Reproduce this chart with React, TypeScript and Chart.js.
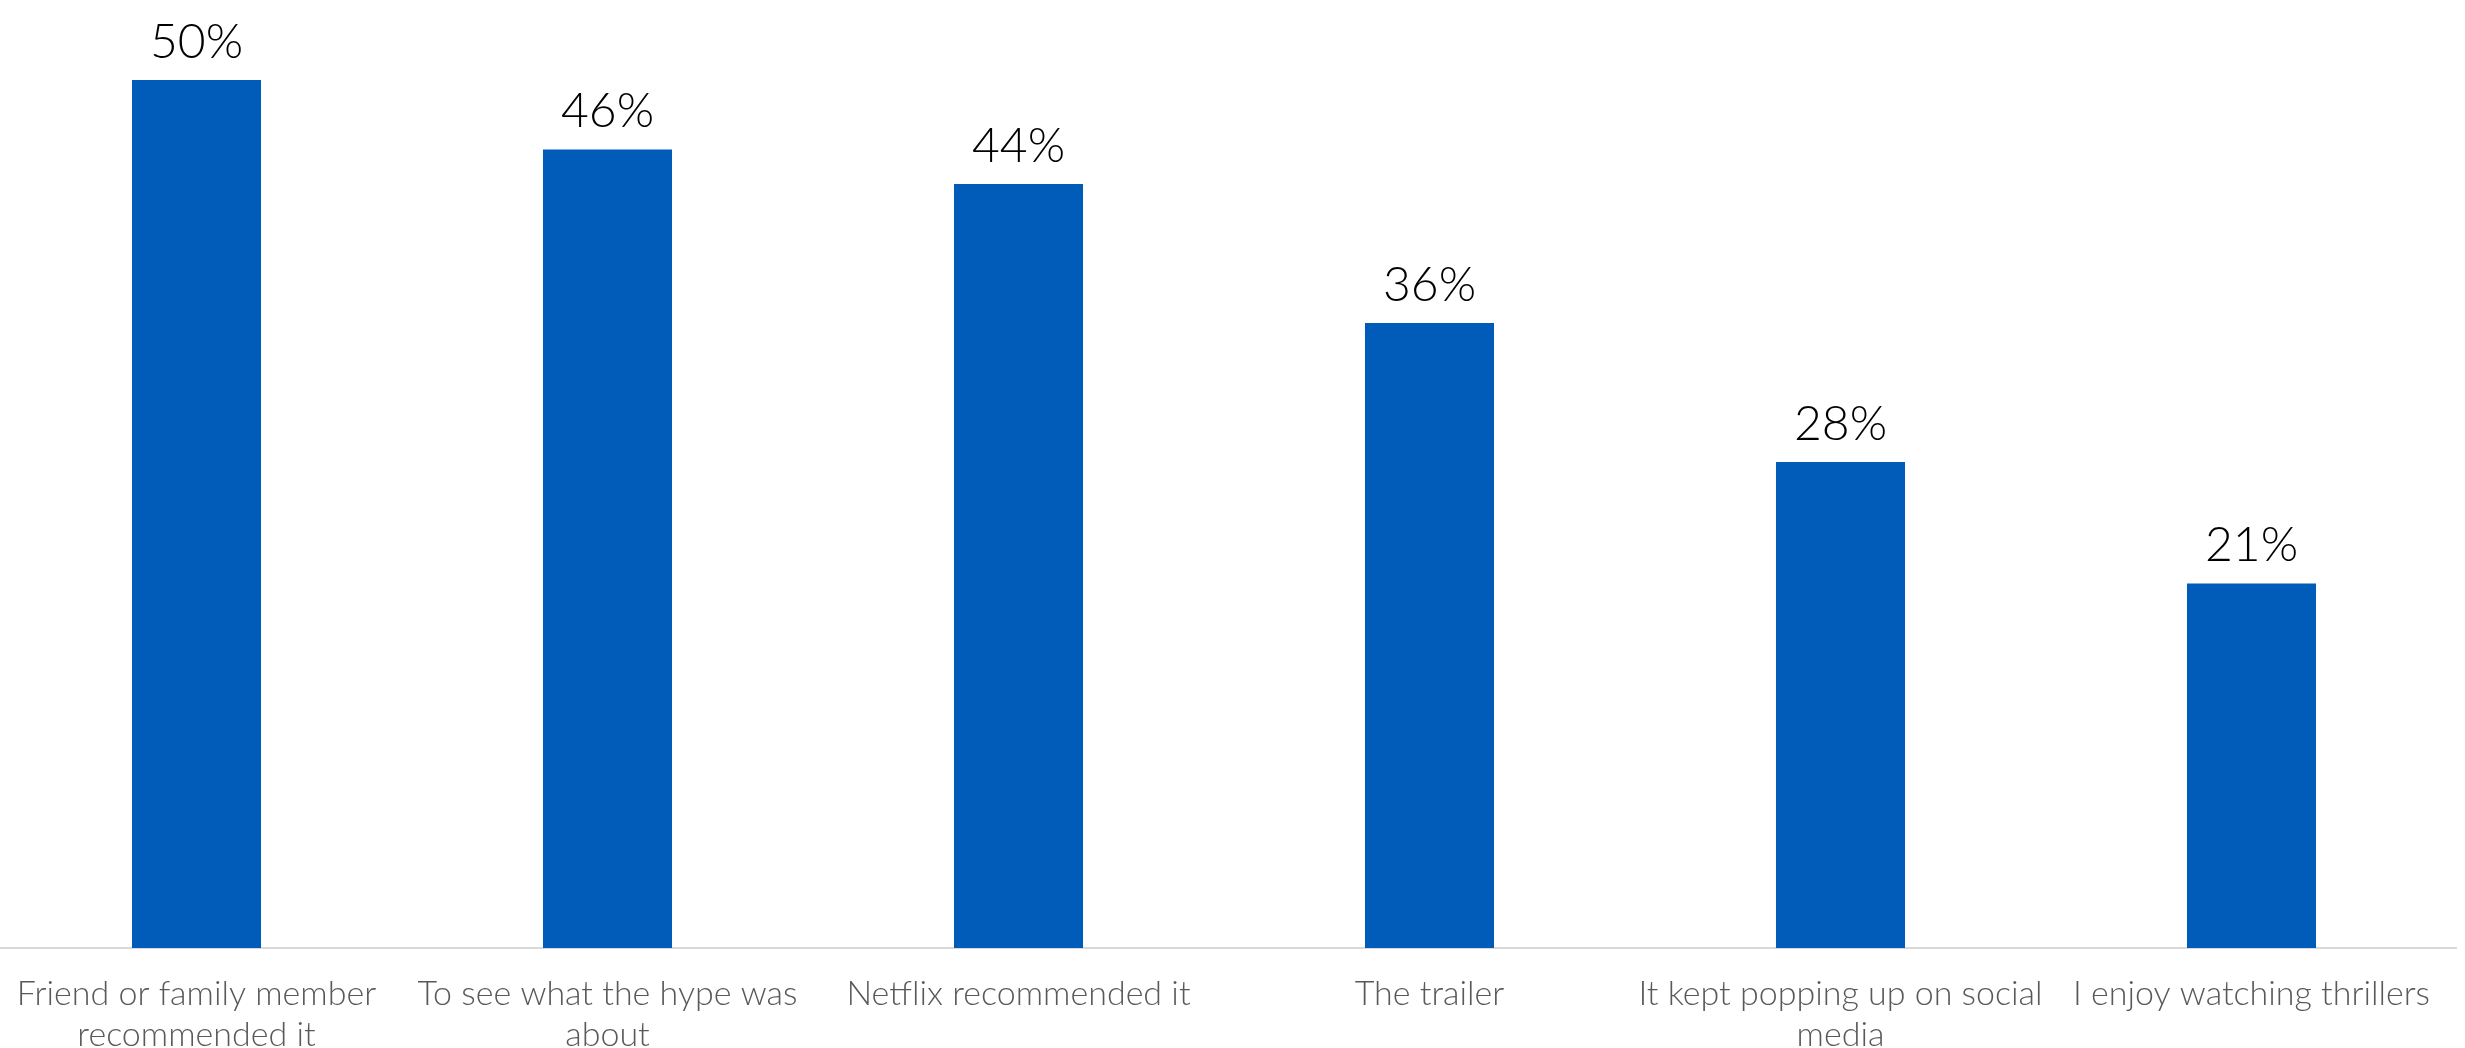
import React, { useEffect, useRef } from "react";
import { Chart, registerables } from "chart.js";

Chart.register(...registerables);

const categories: (string | string[])[] = [
  ["Friend or family member", "recommended it"],
  ["To see what the hype was", "about"],
  "Netflix recommended it",
  "The trailer",
  ["It kept popping up on social", "media"],
  "I enjoy watching thrillers",
];

const values: number[] = [50, 46, 44, 36, 28, 21];

const valueLabels: string[] = ["50%", "46%", "44%", "36%", "28%", "21%"];

const BAR_COLOR = "#005CB8";

const valueLabelPlugin = {
  id: "valueLabels",
  afterDatasetsDraw(chart: any) {
    const ctx = chart.ctx;
    const meta = chart.getDatasetMeta(0);
    ctx.save();
    ctx.font = "300 48px Lato";
    ctx.fillStyle = "#000000";
    ctx.textAlign = "center";
    ctx.textBaseline = "alphabetic";
    meta.data.forEach((bar: any, i: number) => {
      ctx.fillText(valueLabels[i], bar.x, bar.y - 22);
    });
    ctx.restore();
  },
};

export default function App() {
  const ref = useRef<HTMLCanvasElement | null>(null);

  useEffect(() => {
    if (!ref.current) return;
    const chart = new Chart(ref.current, {
      type: "bar",
      data: {
        labels: categories,
        datasets: [
          {
            data: values,
            backgroundColor: BAR_COLOR,
            borderWidth: 0,
            barPercentage: 0.314,
            categoryPercentage: 1,
          },
        ],
      },
      options: {
        animation: false,
        responsive: false,
        maintainAspectRatio: false,
        layout: { padding: { top: 10.5, left: 0, right: 0, bottom: 0 } },
        plugins: {
          legend: { display: false },
          tooltip: { enabled: false },
        },
        scales: {
          x: {
            grid: { display: false },
            border: { display: true, color: "#D9D9D9", width: 2 },
            ticks: {
              color: "#595959",
              font: { family: "Lato", size: 34, weight: "300", lineHeight: 1.2 },
              padding: 18,
              maxRotation: 0,
              autoSkip: false,
            },
            afterFit: (scale: any) => {
              scale.height = 100;
            },
          },
          y: {
            display: false,
            min: 0,
            max: 54,
          },
        },
      },
      plugins: [valueLabelPlugin],
    });
    return () => chart.destroy();
  }, []);

  return (
    <div style={{ position: "fixed", left: -9, top: 0, width: 2466, height: 1048 }}>
      <canvas ref={ref} width={2466} height={1048} style={{ display: "block" }} />
    </div>
  );
}
